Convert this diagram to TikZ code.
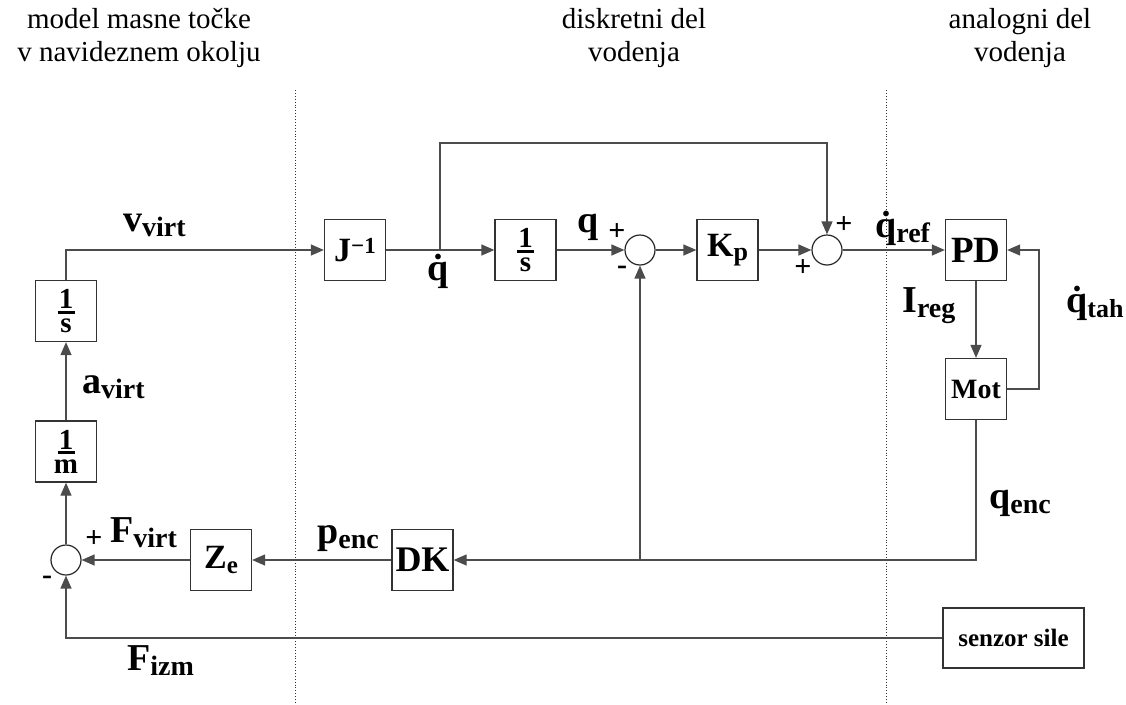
\documentclass[tikz,border=0pt]{standalone}
\usepackage{fontspec}
\setmainfont{Liberation Serif}
\usetikzlibrary{arrows.meta}

\newcommand{\sig}[3][28]{#2\raisebox{-0.3ex}{\fontsize{#1}{#1}\selectfont #3}}
\newcommand{\frc}[2]{\begin{tabular}{@{}c@{}}#1\\[-25pt]\rule{17pt}{3pt}\\[-11pt]#2\\[-7pt]\end{tabular}}

\begin{document}
\begin{tikzpicture}[x=1pt,y=-1pt,
        block/.style={draw=black!80,line width=1.3pt,minimum width=61pt,minimum height=61pt,
            inner sep=0pt,font=\fontsize{34}{36}\selectfont\bfseries},
        fracblock/.style={block,font=\fontsize{29}{30}\selectfont\bfseries},
        sumnode/.style={circle,draw=black!85,line width=1.2pt,minimum size=30pt,inner sep=0pt},
        lbl/.style={font=\fontsize{38}{40}\selectfont\bfseries,inner sep=0pt,anchor=base west},
        sgn/.style={font=\fontsize{30}{30}\selectfont\bfseries,inner sep=0pt},
        title/.style={font=\fontsize{29}{33}\selectfont,align=center,inner sep=0pt},
        wire/.style={line width=1.3pt,draw=black!70},
        sep/.style={dotted,line width=0.9pt,draw=black!80},
        >={Triangle[length=13pt,width=11pt]}]
    \useasboundingbox (0,0) rectangle (1126,704);

    \node[title] (t1) at (139,38) {model masne točke\\v navideznem okolju};
    \node[title] (t2) at (634,38) {diskretni del\\vodenja};
    \node[title] (t3) at (1020,38) {analogni del\\vodenja};

    \draw[sep] (295,90) -- (295,704);
    \draw[sep] (886,90) -- (886,704);

    \node[fracblock] (int1) at (66,311) {\frc{1}{s}};
    \node[fracblock] (invm) at (66,451.5) {\frc{1}{m}};
    \node[block] (jinv) at (355,250) {J\raisebox{0.55ex}{\fontsize{23}{23}\selectfont −1}};
    \node[fracblock] (int2) at (525.5,250) {\frc{1}{s}};
    \node[block] (kp) at (727.5,250) {\sig[26]{K}{p}};
    \node[block] (pd) at (976,250) {\fontsize{37}{38}\selectfont PD};
    \node[block] (mot) at (976,389) {\fontsize{28}{30}\selectfont Mot};
    \node[block] (dk) at (422.5,560) {\fontsize{36}{38}\selectfont DK};
    \node[block] (ze) at (221,560) {\sig[25]{Z}{e}};
    \node[block,minimum width=141pt,minimum height=60pt] (sens) at (1013.5,638) {\fontsize{25}{26}\selectfont senzor sile};

    \node[sumnode] (sum1) at (640,250) {};
    \node[sumnode] (sum2) at (827,250) {};
    \node[sumnode] (sum3) at (66,560) {};

    \coordinate (br) at (440,250);
    \coordinate (ff) at (440,143);
    \coordinate (tah) at (1039,389);
    \coordinate (enc) at (640,560);

    \draw[wire,->] (int1.north) |- (jinv.west);
    \draw[wire,->] (jinv) -- (int2);
    \draw[wire,->] (br) -- (ff) -| (sum2.north);
    \draw[wire,->] (int2) -- (sum1);
    \draw[wire,->] (sum1) -- (kp);
    \draw[wire,->] (kp) -- (sum2);
    \draw[wire,->] (sum2) -- (pd);
    \draw[wire,->] (pd) -- (mot);
    \draw[wire,->] (mot.east) -- (tah) |- (pd.east);
    \draw[wire,->] (mot.south) |- (dk.east);
    \draw[wire,->] (enc) -- (sum1.south);
    \draw[wire,->] (dk) -- (ze);
    \draw[wire,->] (ze) -- (sum3);
    \draw[wire,->] (sum3) -- (invm);
    \draw[wire,->] (invm) -- (int1);
    \draw[wire,->] (sens.west) -| (sum3.south);

    \node[lbl] (vv) at (123,231) {\sig{v}{virt}};
    \node[lbl] (av) at (82,393) {\sig{a}{virt}};
    \node[lbl] (qd) at (427,280) {\.q};
    \node[lbl] (qq) at (577,232) {q};
    \node[lbl] (qr) at (875,237) {\sig{\.q}{ref}};
    \node[lbl] (ir) at (902,312) {\sig{I}{reg}};
    \node[lbl] (qt) at (1066,312) {\sig[26]{\.q}{tah}};
    \node[lbl] (qe) at (989,508) {\sig{q}{enc}};
    \node[lbl] (pe) at (317,543) {\sig{p}{enc}};
    \node[lbl] (fv) at (110,542) {\sig{F}{virt}};
    \node[lbl] (fi) at (127,670) {\sig{F}{izm}};

    \node[sgn] (s1a) at (617,232) {+};
    \node[sgn] (s1b) at (622,270) {-};
    \node[sgn] (s2a) at (844,225) {+};
    \node[sgn] (s2b) at (803,268) {+};
    \node[sgn] (s3a) at (94,539) {+};
    \node[sgn] (s3b) at (47,580) {-};
\end{tikzpicture}
\end{document}
